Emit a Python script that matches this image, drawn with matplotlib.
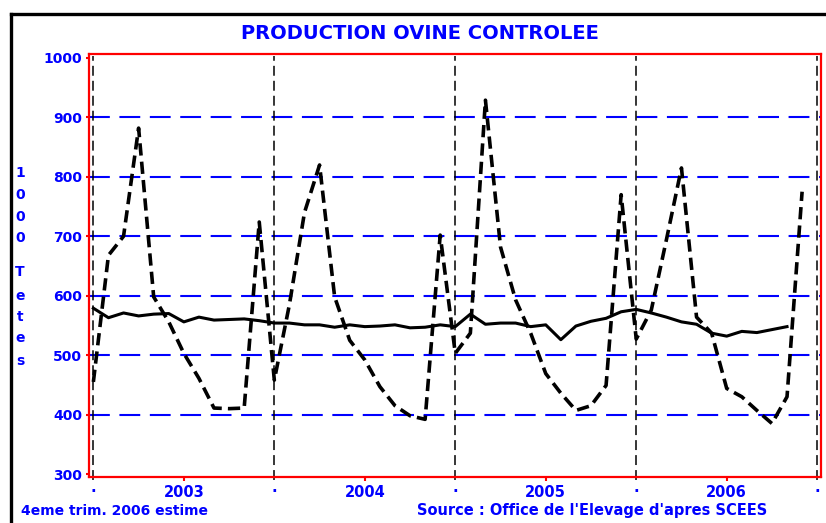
import matplotlib
matplotlib.use("Agg")
import matplotlib.pyplot as plt
from matplotlib.lines import Line2D
import numpy as np

plt.rcParams['font.family'] = ['DejaVu Sans']

# ---------------- data ----------------
years = ["2003", "2004", "2005", "2006"]
# monthly controlled sheep production (x 1000 head), Jan 2003 .. Dec 2006
monthly = [455, 668, 700, 882, 598, 556, 503, 461, 411, 410, 411, 724,
           458, 585, 740, 820, 598, 525, 492, 447, 415, 398, 392, 702,
           503, 537, 929, 682, 593, 537, 469, 436, 407, 415, 449, 770,
           527, 576, 694, 815, 564, 537, 444, 430, 407, 385, 430, 775]
# smoothed / trend series
trend = [579, 563, 571, 566, 569, 570, 556, 564, 559, 560, 561, 558,
         554, 554, 551, 551, 547, 551, 548, 549, 551, 546, 547, 551,
         548, 569, 552, 554, 554, 548, 551, 526, 549, 557, 562, 573,
         577, 571, 564, 556, 552, 537, 532, 540, 538, 543, 548]
y_ticks = [300, 400, 500, 600, 700, 800, 900, 1000]
grid_levels = [400, 500, 600, 700, 800, 900]
ylabel_chars = ["1", "0", "0", "0", "T", "e", "t", "e", "s"]

BLUE = "#0000FF"
RED = "#FF0000"

W, H = 826, 523
fig = plt.figure(figsize=(W / 100, H / 100), dpi=100)
fig.patch.set_facecolor("white")

left, right, top, bottom = 89, 820.5, 54.3, 476.7
ax = fig.add_axes([left / W, 1 - bottom / H, (right - left) / W, (bottom - top) / H])

x_m = np.arange(len(monthly))
x_t = np.arange(len(trend))

ax.set_xlim(-0.29, 48.22)
ax.set_ylim(295.5, 1006.2)

# blue horizontal dashed grid
for g in grid_levels:
    ax.axhline(g, color=BLUE, lw=1.5, dashes=(10, 4.6), zorder=1)

# black dashed year separators
for b in range(0, 49, 12):
    ax.plot([b, b], [289.5, 1004], color="black", lw=1.1, dashes=(6.5, 3.3),
            clip_on=False, zorder=2)

ax.plot(x_m, monthly, color="black", lw=2.6, dashes=(3.4, 1.7), zorder=4)
ax.plot(x_t, trend, color="black", lw=2.2, zorder=5)

# spines
for s in ax.spines.values():
    s.set_color(RED)
    s.set_linewidth(1.6)

# y ticks
ax.set_yticks(y_ticks)
ax.set_yticklabels([str(v) for v in y_ticks])
ax.tick_params(axis="y", direction="out", length=2.5, width=1.5, color=RED,
               labelcolor=BLUE, labelsize=10, pad=2.5)
for lab in ax.get_yticklabels():
    lab.set_fontweight("bold")

# x ticks: years at mid-year, dots at year boundaries
ax.set_xticks([6, 18, 30, 42])
ax.set_xticklabels(years)
ax.tick_params(axis="x", which="major", direction="out", length=3, width=1.5,
               color=RED, labelcolor=BLUE, labelsize=10.5, pad=3)
ax.set_xticks([0, 12, 24, 36, 48], minor=True)
ax.set_xticklabels(["."] * 5, minor=True)
ax.tick_params(axis="x", which="minor", length=0, labelcolor=BLUE,
               labelsize=10.5, pad=2.5)
for lab in ax.get_xticklabels() + ax.get_xticklabels(minor=True):
    lab.set_fontweight("bold")

# title
fig.text(419.5 / W, 1 - 33.5 / H, "PRODUCTION OVINE CONTROLEE", color=BLUE,
         fontsize=14, fontweight="bold", ha="center", va="center")

# vertical y label
ylab_y = [172.7, 195, 216.7, 238.3, 271.7, 295.7, 316.7, 338.3, 360.7]
for ch, yy in zip(ylabel_chars, ylab_y):
    fig.text(20 / W, 1 - yy / H, ch, color=BLUE, fontsize=10, fontweight="bold",
             ha="center", va="center")

# bottom texts
fig.text(21 / W, 1 - 511 / H, "4eme trim. 2006 estime", color=BLUE,
         fontsize=10, fontweight="bold", ha="left", va="center")
fig.text(417 / W, 1 - 511 / H, "Source : Office de l'Elevage d'apres SCEES",
         color=BLUE, fontsize=10.5, fontweight="bold", ha="left", va="center")

# outer black frame (left and top edges)
fig.add_artist(Line2D([10.5 / W, 10.5 / W], [0, 1 - 13.5 / H], color="black",
                      lw=2.4, transform=fig.transFigure, solid_capstyle="projecting"))
fig.add_artist(Line2D([10.5 / W, 1], [1 - 13.5 / H, 1 - 13.5 / H], color="black",
                      lw=2.4, transform=fig.transFigure, solid_capstyle="projecting"))

fig.savefig("out.png", dpi=100)
